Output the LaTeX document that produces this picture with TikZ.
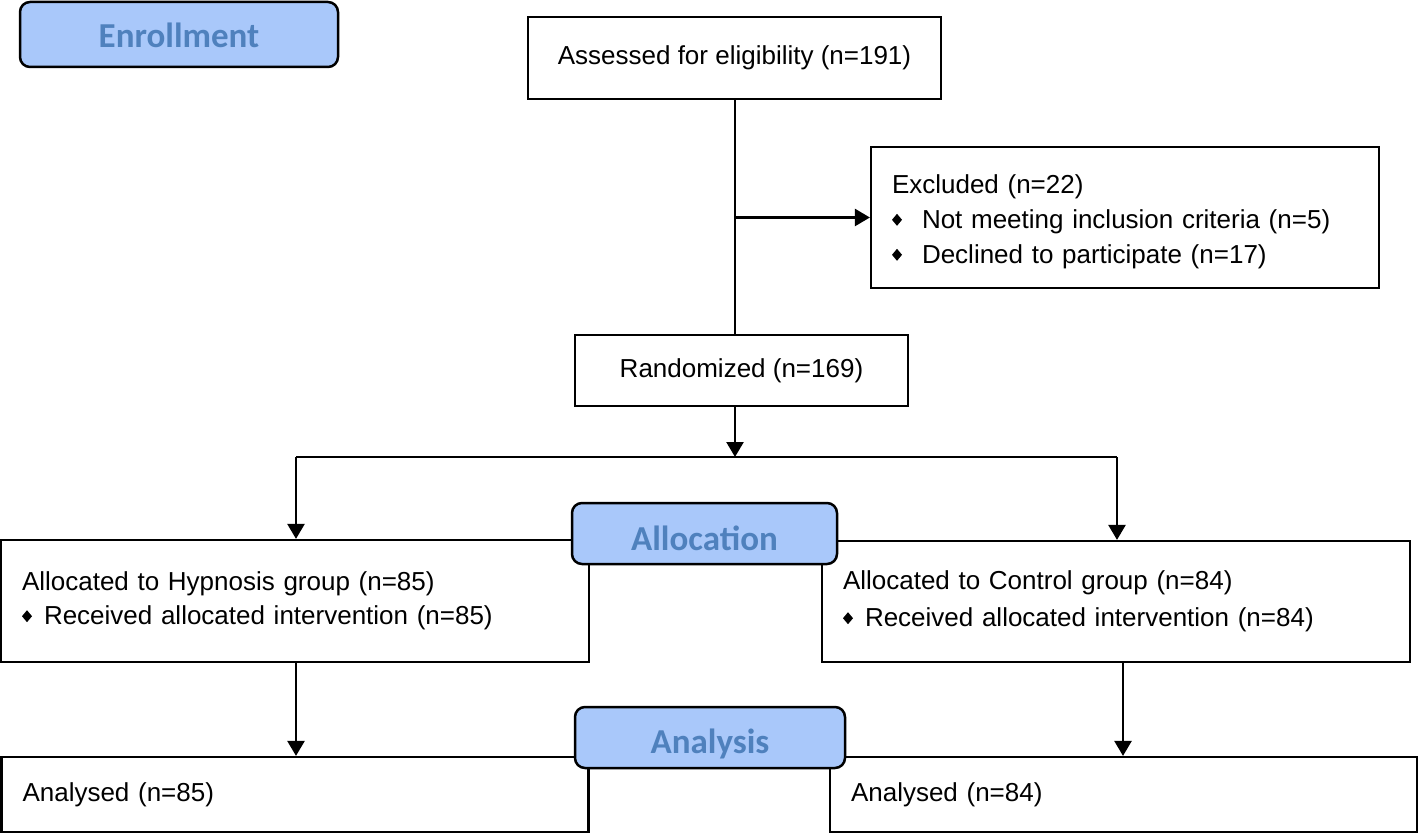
\documentclass[tikz,border=0pt]{standalone}
\usepackage{fontspec}
\setmainfont{Liberation Sans}
\newfontfamily\labfont{Carlito}
\usetikzlibrary{arrows.meta}
\definecolor{labfill}{HTML}{A9C8FA}
\definecolor{labtext}{HTML}{4F81BD}
\newcommand{\bul}[1]{\makebox[#1][l]{\tikz[baseline=0pt]\fill[black] (5pt,2.5pt)--(10pt,8.5pt)--(5pt,14.5pt)--(0pt,8.5pt)--cycle;}}
\begin{document}
\begin{tikzpicture}[x=1pt,y=-1pt,
  box/.style={draw=black, line width=2.2pt, rectangle, inner sep=0pt, fill=white,
    font=\fontsize{26}{35}\selectfont},
  lbox/.style={box, align=left, inner xsep=21pt},
  phase/.style={draw=black, line width=2.5pt, rounded corners=10pt, fill=labfill,
    text=labtext, font=\labfont\bfseries\fontsize{35}{40}\selectfont, inner sep=0pt,
    text depth=0pt},
  conn/.style={line width=2.5pt},
  arr/.style={conn, -{Triangle[length=15pt,width=17pt]}}
]
\useasboundingbox (0,0) rectangle (1419,834);

% boxes
\node[box, minimum width=413, minimum height=82] (assess) at (734.5,58)
  {Assessed for eligibility (n=191)};
\node[lbox, text width=466, minimum height=141] (excl) at (1125,217.5)
  {\rule{0pt}{27pt}Excluded (n=22)\\
   \bul{30pt}Not meeting inclusion criteria (n=5)\\
   \bul{30pt}Declined to participate (n=17)};
\node[box, minimum width=333, minimum height=71] (rand) at (741.5,370.5)
  {Randomized (n=169)};
\node[lbox, text width=546, minimum height=122] (hyp) at (295,601)
  {Allocated to Hypnosis group (n=85)\\[-1pt]
   \bul{22pt}Received allocated intervention (n=85)\\[24pt]};
\node[lbox, text width=546, minimum height=121] (ctrl) at (1116,601.5)
  {Allocated to Control group (n=84)\\[2pt]
   \bul{22pt}Received allocated intervention (n=84)\\[10pt]};
\node[lbox, text width=545, minimum height=75] (an1) at (295,794.5)
  {Analysed (n=85)};
\node[lbox, text width=545, minimum height=75] (an2) at (1123.5,794.5)
  {Analysed (n=84)};

% connectors
\coordinate (split) at (735,457);
\coordinate (hl) at (296,457);
\coordinate (hr) at (1117,457);
\coordinate (bl) at (296,662);
\coordinate (br) at (1123,662);
\draw[conn] (split |- assess.south) -- (split |- rand.north);
\draw[arr] (split |- excl.west) -- (excl.west);
\draw[arr] (split |- rand.south) -- (split);
\draw[conn] (hl) -- (hr);
\draw[arr] (hl) -- (hl |- hyp.north);
\draw[arr] (hr) -- (hr |- ctrl.north);
\draw[arr] (bl) -- (bl |- an1.north);
\draw[arr] (br) -- (br |- an2.north);

% phase labels
\node[phase, text height=26pt, minimum width=318, minimum height=65] (enroll) at (179,34.5) {Enrollment};
\node[phase, text height=33pt, minimum width=265, minimum height=61] (alloc) at (704.5,533.5) {Allocation};
\node[phase, text height=32pt, minimum width=270, minimum height=61] (analysis) at (710,737.5) {Analysis};
\end{tikzpicture}
\end{document}
